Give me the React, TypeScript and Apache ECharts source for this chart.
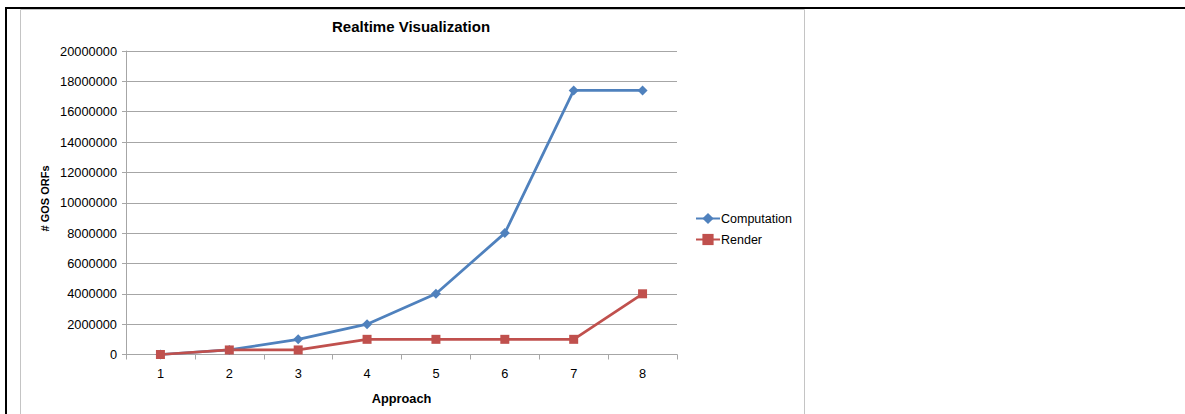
import React, { useEffect, useRef } from "react";
import * as echarts from "echarts";

const approaches = ["1", "2", "3", "4", "5", "6", "7", "8"];
const computation = [0, 300000, 1000000, 2000000, 4000000, 8000000, 17400000, 17400000];
const render = [0, 300000, 300000, 1000000, 1000000, 1000000, 1000000, 4000000];

const FONT = "'Liberation Sans', Arial, sans-serif";
const BLUE = "#4F81BD";
const RED = "#C0504D";
const GRID = "#a6a6a6";

export default function App() {
  const ref = useRef<HTMLDivElement>(null);

  useEffect(() => {
    if (!ref.current) return;
    const chart = echarts.init(ref.current, null, { renderer: "svg" });
    chart.setOption({
      animation: false,
      backgroundColor: "#fff",
      textStyle: { fontFamily: FONT },
      title: {
        text: "Realtime Visualization",
        left: 332,
        top: 19,
        padding: 0,
        textStyle: { fontFamily: FONT, fontSize: 15, fontWeight: "bold", color: "#000" },
      },
      graphic: [
        // chart frame
        {
          type: "rect",
          shape: { x: 20.5, y: 9.5, width: 784, height: 420 },
          style: { fill: "none", stroke: "#c4c4c4", lineWidth: 1 },
          silent: true,
        },
        // table borders
        {
          type: "line",
          shape: { x1: 5, y1: 8, x2: 1185, y2: 8 },
          style: { stroke: "#000", lineWidth: 2 },
          silent: true,
        },
        {
          type: "line",
          shape: { x1: 6, y1: 7, x2: 6, y2: 414 },
          style: { stroke: "#000", lineWidth: 2 },
          silent: true,
        },
        // value axis title
        {
          type: "text",
          x: 44.5,
          y: 198.5,
          rotation: Math.PI / 2,
          silent: true,
          style: {
            text: "# GOS ORFs",
            fontFamily: FONT,
            fontSize: 11,
            fontWeight: "bold",
            fill: "#000",
            align: "center",
            verticalAlign: "middle",
          },
        },
      ],
      legend: {
        orient: "vertical",
        left: 695,
        top: 212,
        padding: 0,
        itemWidth: 24,
        itemHeight: 14,
        itemGap: 8,
        textStyle: { fontFamily: FONT, fontSize: 12.5, color: "#000", padding: [0, 0, 0, -4] },
        data: ["Computation", "Render"],
      },
      grid: { left: 126, right: 508, top: 51, bottom: 59.5 },
      xAxis: {
        type: "category",
        data: approaches,
        boundaryGap: true,
        name: "Approach",
        nameLocation: "middle",
        nameGap: 37,
        nameTextStyle: { fontFamily: FONT, fontSize: 12.8, fontWeight: "bold", color: "#000" },
        axisLine: { lineStyle: { color: GRID, width: 1 } },
        axisTick: { show: true, length: 5, lineStyle: { color: GRID } },
        axisLabel: { margin: 12, fontFamily: FONT, fontSize: 12.8, color: "#000" },
      },
      yAxis: {
        type: "value",
        min: 0,
        max: 20000000,
        interval: 2000000,
        axisLine: { show: true, lineStyle: { color: GRID, width: 1 } },
        axisTick: { show: true, length: 4, lineStyle: { color: GRID } },
        axisLabel: {
          margin: 9,
          fontFamily: FONT,
          fontSize: 12.8,
          color: "#000",
          formatter: (v: number) => String(v),
        },
        splitLine: { lineStyle: { color: GRID, width: 1 } },
      },
      series: [
        {
          name: "Computation",
          type: "line",
          data: computation,
          symbol: "diamond",
          symbolSize: 10,
          lineStyle: { color: BLUE, width: 2.75 },
          itemStyle: { color: BLUE },
        },
        {
          name: "Render",
          type: "line",
          data: render,
          symbol: "rect",
          symbolSize: 9,
          lineStyle: { color: RED, width: 2.75 },
          itemStyle: { color: RED },
        },
      ],
    });
    return () => chart.dispose();
  }, []);

  return (
    <div
      ref={ref}
      style={{ position: "absolute", left: 0, top: 0, width: 1185, height: 414 }}
    />
  );
}
